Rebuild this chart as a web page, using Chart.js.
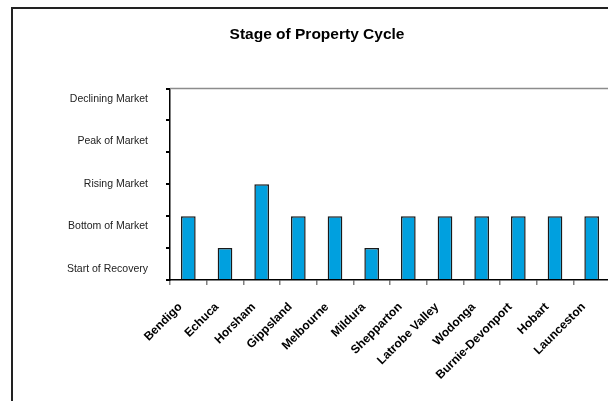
<!DOCTYPE html>
<html>
<head>
<meta charset="utf-8">
<script src="https://cdn.jsdelivr.net/npm/chart.js@4.4.0/dist/chart.umd.min.js"></script>
<style>
  html, body { margin: 0; padding: 0; overflow: hidden; background: #fff; }
  #wrap { width: 634px; height: 401px; }
</style>
</head>
<body>
<div id="wrap"><canvas id="stageChart" width="634" height="401"></canvas></div>
<script>
// Regions on the x axis
const regions = ['Bendigo', 'Echuca', 'Horsham', 'Gippsland', 'Melbourne', 'Mildura',
    'Shepparton', 'Latrobe Valley', 'Wodonga', 'Burnie-Devonport', 'Hobart', 'Launceston'];

// Stage value per region (0 = axis base)
const stageValues = [2, 1, 3, 2, 2, 1, 2, 2, 2, 2, 2, 2];

// Stage names shown down the left side
const stageLabels = ['Start of Recovery', 'Bottom of Market', 'Rising Market', 'Peak of Market', 'Declining Market'];

// Tick marks on the value axis
const valueTicks = [0, 1, 2, 3, 4, 5, 6];

// Draw the outer chart frame and the plot area border
const framePlugin = {
    id: 'frame',
    beforeDraw(chart) {
        const c = chart.ctx;
        c.save();
        c.fillStyle = '#fff';
        c.fillRect(0, 0, chart.width, chart.height);
        c.strokeStyle = '#222';
        c.lineWidth = 2;
        c.strokeRect(12, 8, 700, 500);
        c.restore();
    },
    afterDraw(chart) {
        const a = chart.chartArea;
        const c = chart.ctx;
        c.save();
        c.strokeStyle = '#8c8c8c';
        c.lineWidth = 1.5;
        c.beginPath();
        c.moveTo(a.left, a.top);
        c.lineTo(a.right, a.top);
        c.lineTo(a.right, a.bottom);
        c.stroke();
        c.restore();
    }
};

const ctx = document.getElementById('stageChart').getContext('2d');

new Chart(ctx, {
    type: 'bar',
    data: {
        labels: regions,
        datasets: [{
            data: stageValues,
            backgroundColor: '#00A0DF',
            borderColor: '#1a1a1a',
            borderWidth: 1.5,
            barPercentage: 0.4,
            categoryPercentage: 1
        }]
    },
    options: {
        responsive: false,
        animation: false,
        layout: { padding: 0 },
        plugins: {
            legend: { display: false },
            tooltip: { enabled: false },
            title: {
                display: true,
                text: 'Stage of Property Cycle',
                color: '#000',
                font: { family: 'Liberation Sans', size: 15.5, weight: 'bold' },
                padding: { top: 25, bottom: 45 }
            }
        },
        scales: {
            x: {
                grid: { offset: true, drawOnChartArea: false, tickLength: 5, color: '#808080', lineWidth: 1.5 },
                border: { color: '#000', width: 1.5 },
                ticks: {
                    font: { family: 'Liberation Sans', size: 12, weight: 'bold' },
                    color: '#000',
                    maxRotation: 45,
                    minRotation: 45,
                    autoSkip: false,
                    padding: 15,
                    labelOffset: -8
                },
                afterFit(scale) { scale.height = 121; }
            },
            y: {
                min: valueTicks[0],
                max: valueTicks[valueTicks.length - 1],
                ticks: { display: false },
                afterBuildTicks(scale) { scale.ticks = valueTicks.map(v => ({ value: v })); },
                grid: { drawOnChartArea: false, tickLength: 4, color: '#000', lineWidth: 2 },
                border: { color: '#000', width: 1.5 },
                afterFit(scale) { scale.width = 6; }
            },
            yLab: {
                position: 'left',
                weight: 1,
                min: -0.26,
                max: 4.24,
                grid: { display: false },
                border: { display: false },
                afterBuildTicks(scale) { scale.ticks = stageLabels.map((_, i) => ({ value: i })); },
                ticks: {
                    callback: (value, index) => stageLabels[index],
                    font: { family: 'Liberation Sans', size: 10.5 },
                    color: '#222',
                    padding: 8
                },
                afterFit(scale) { scale.width = 164; }
            },
            // empty strip on the right so the plot ends where the reference does
            rightPad: {
                position: 'right',
                display: true,
                grid: { display: false },
                border: { display: false },
                ticks: { display: false },
                afterFit(scale) { scale.width = 24; }
            }
        }
    },
    plugins: [framePlugin]
});
</script>
</body>
</html>
